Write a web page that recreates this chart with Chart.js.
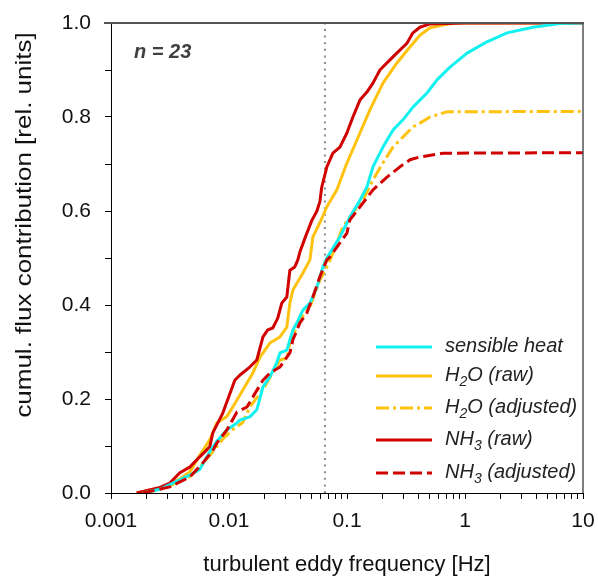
<!DOCTYPE html>
<html><head><meta charset="utf-8">
<script src="https://cdn.jsdelivr.net/npm/chart.js@4.4.1/dist/chart.umd.min.js"></script>
<style>html,body{margin:0;padding:0;background:#fff;}</style>
</head><body>
<canvas id="c" width="598" height="576"></canvas>
<script>
// ---------------- data ----------------
const sensibleFreq = [0.00186,0.0026,0.00315,0.00465,0.00565,0.00687,0.00788,0.00958,0.01165,0.01235,0.0150,0.0172,0.0194,0.0222,0.0254,0.0270,0.0309,0.0348,0.0376,0.0423,0.0485,0.0556,0.0625,0.0675,0.0871,0.1058,0.1287,0.1475,0.1659,0.2016,0.2451,0.2979,0.3622,0.4762,0.5789,0.7462,1.04,1.537,2.271,3.774,6.394,10];
const sensibleVal  = [0,0.008,0.018,0.038,0.05,0.088,0.11,0.134,0.149,0.155,0.162,0.177,0.226,0.247,0.277,0.298,0.304,0.347,0.362,0.389,0.404,0.438,0.481,0.50,0.545,0.587,0.623,0.651,0.694,0.736,0.772,0.794,0.821,0.851,0.879,0.906,0.936,0.96,0.979,0.991,0.999,1.0];

const h2oRawFreq = [0.00165,0.0026,0.00315,0.00383,0.00465,0.00565,0.00687,0.00788,0.00958,0.01077,0.0131,0.0159,0.0183,0.0222,0.0270,0.0309,0.0328,0.0348,0.0423,0.0485,0.0514,0.0589,0.0675,0.0821,0.0998,0.1287,0.1564,0.2016,0.2650,0.3416,0.4152,0.505,0.6768,0.8554,10];
const h2oRawVal  = [0,0.010,0.018,0.030,0.045,0.080,0.113,0.149,0.163,0.183,0.219,0.255,0.289,0.319,0.332,0.353,0.404,0.432,0.468,0.496,0.545,0.575,0.609,0.645,0.702,0.766,0.815,0.872,0.915,0.949,0.974,0.990,0.997,1.0,1.0];

const h2oAdjFreq = [0.00186,0.0026,0.00315,0.00465,0.00565,0.00687,0.00886,0.01077,0.0131,0.0150,0.0194,0.0222,0.0270,0.0309,0.0328,0.0399,0.0485,0.0589,0.0675,0.0759,0.0923,0.1122,0.1364,0.1659,0.2016,0.2451,0.3222,0.3622,0.4152,0.505,0.70,10];
const h2oAdjVal  = [0,0.008,0.015,0.035,0.055,0.080,0.115,0.135,0.150,0.183,0.220,0.245,0.283,0.287,0.319,0.368,0.396,0.453,0.481,0.510,0.566,0.596,0.623,0.666,0.702,0.736,0.766,0.779,0.787,0.800,0.811,0.812];

const nh3RawFreq = [0.00165,0.0026,0.00315,0.00383,0.00465,0.00565,0.00687,0.00729,0.00886,0.0112,0.0124,0.0150,0.0172,0.0194,0.0213,0.0235,0.0259,0.0280,0.0309,0.0328,0.0361,0.0383,0.0399,0.0457,0.0504,0.0556,0.0589,0.0610,0.0675,0.0759,0.0871,0.0998,0.1122,0.1287,0.1475,0.1659,0.1901,0.2451,0.3222,0.362,0.415,0.505,1.0,10];
const nh3RawVal  = [0,0.012,0.021,0.043,0.055,0.077,0.098,0.128,0.170,0.240,0.251,0.268,0.283,0.332,0.347,0.351,0.372,0.404,0.417,0.474,0.481,0.496,0.513,0.553,0.580,0.600,0.620,0.650,0.694,0.723,0.736,0.766,0.800,0.836,0.853,0.872,0.900,0.928,0.957,0.979,0.991,0.998,1.0,1.0];

const nh3AdjFreq = [0.00186,0.00315,0.00465,0.00600,0.00729,0.00788,0.00958,0.01165,0.0142,0.0159,0.0194,0.0222,0.0270,0.0328,0.0348,0.0399,0.0457,0.0514,0.0589,0.0675,0.0716,0.0998,0.1058,0.1364,0.1659,0.2181,0.2810,0.3416,0.4152,0.6509,10];
const nh3AdjVal  = [0,0.013,0.034,0.064,0.090,0.106,0.134,0.172,0.183,0.204,0.240,0.255,0.268,0.298,0.326,0.362,0.383,0.417,0.460,0.496,0.502,0.553,0.581,0.617,0.645,0.672,0.694,0.709,0.715,0.723,0.724];

const cutoffFreq = 0.065;           // dotted vertical line
const sampleSize = 'n = 23';

const seriesLabels = ['sensible heat','H₂O (raw)','H₂O (adjusted)','NH₃ (raw)','NH₃ (adjusted)'];
const seriesColors = ['#12F0F0','#FFC20E','#FFC20E','#D00000','#D00000'];
const seriesDashes = [[],[],[13,4,3,4],[],[12,5]];

const xMajorTicks = [0.001,0.01,0.1,1,10];
const xTickLabels = ['0.001','0.01','0.1','1','10'];
const xMinorMultipliers = [2,3,4,5,6,7,8,9];
const yTicks = [0,0.1,0.2,0.3,0.4,0.5,0.6,0.7,0.8,0.9,1.0];
const yTickLabels = ['0.0','','0.2','','0.4','','0.6','','0.8','','1.0'];

const xTitle = 'turbulent eddy frequency [Hz]';
const yTitle = 'cumul. flux contribution [rel. units]';

// ---------------- chart ----------------
const FONT = '"Liberation Sans", Arial, sans-serif';
const pts = (f, v) => f.map((x, i) => ({x: x, y: v[i]}));

const xTickValues = [];
xMajorTicks.forEach((d, i) => {
  xTickValues.push(d);
  if (i < xMajorTicks.length - 1) xMinorMultipliers.forEach(m => xTickValues.push(d * m));
});

const seriesData = [
  pts(sensibleFreq, sensibleVal),
  pts(h2oRawFreq, h2oRawVal),
  pts(h2oAdjFreq, h2oAdjVal),
  pts(nh3RawFreq, nh3RawVal),
  pts(nh3AdjFreq, nh3AdjVal)
];
const drawOrder = [2, 5, 3, 4, 1]; // lower = on top

const datasets = seriesData.map((d, i) => ({
  label: seriesLabels[i], data: d,
  borderColor: seriesColors[i], borderWidth: 3, borderDash: seriesDashes[i],
  pointRadius: 0, tension: 0, fill: false, order: drawOrder[i],
  borderJoinStyle: 'round', borderCapStyle: 'butt'
}));
datasets.push({
  label: 'cutoff', data: [{x: cutoffFreq, y: 0}, {x: cutoffFreq, y: 1}],
  borderColor: '#8a8a8a', borderWidth: 2, borderDash: [2, 4.6],
  pointRadius: 0, order: 10, borderCapStyle: 'butt'
});

function drawRich(ctx, text, x, y, size) {
  const subMap = {'₂': '2', '₃': '3'};
  let cx = x;
  for (const ch of text) {
    if (subMap[ch]) {
      ctx.font = 'italic ' + Math.round(size * 0.68) + 'px ' + FONT;
      ctx.fillText(subMap[ch], cx, y + 7);
      cx += ctx.measureText(subMap[ch]).width;
    } else {
      ctx.font = 'italic ' + size + 'px ' + FONT;
      ctx.fillText(ch, cx, y);
      cx += ctx.measureText(ch).width;
    }
  }
}

const decor = {
  id: 'decor',
  afterDatasetsDraw(chart) {
    const ctx = chart.ctx, a = chart.chartArea;
    ctx.save();
    // top and right frame
    ctx.strokeStyle = '#555'; ctx.lineWidth = 2;
    ctx.beginPath(); ctx.moveTo(a.left - 7, a.top); ctx.lineTo(a.right + 1, a.top); ctx.stroke();
    ctx.lineWidth = 1.5;
    ctx.beginPath(); ctx.moveTo(a.right, a.top); ctx.lineTo(a.right, a.bottom); ctx.stroke();
    // sample size
    ctx.fillStyle = '#404040'; ctx.textBaseline = 'middle'; ctx.textAlign = 'left';
    ctx.font = 'bold italic 20px ' + FONT;
    ctx.fillText(sampleSize, a.left + 23, a.top + 29);
    // legend
    const rows = [347, 376, 408, 440, 473];
    seriesLabels.forEach((lab, i) => {
      const y = rows[i];
      ctx.strokeStyle = seriesColors[i]; ctx.lineWidth = 3;
      ctx.setLineDash(seriesDashes[i]);
      ctx.beginPath(); ctx.moveTo(376, y); ctx.lineTo(432, y); ctx.stroke();
      ctx.setLineDash([]);
      ctx.fillStyle = '#222'; ctx.textBaseline = 'middle';
      drawRich(ctx, lab, 445, y - 1, 20);
    });
    // y title
    ctx.fillStyle = '#111';
    ctx.translate(25, 225); ctx.rotate(-Math.PI / 2); ctx.scale(1.18, 1);
    ctx.font = '22px ' + FONT; ctx.textAlign = 'center'; ctx.textBaseline = 'middle';
    ctx.fillText(yTitle, 0, 0);
    ctx.restore();
  }
};

new Chart(document.getElementById('c'), {
  type: 'line',
  data: {datasets: datasets},
  options: {
    responsive: false, animation: false, devicePixelRatio: 1,
    layout: {padding: {left: 0, top: 23, right: 15, bottom: 0}},
    plugins: {legend: {display: false}, tooltip: {enabled: false}},
    scales: {
      x: {
        type: 'logarithmic', min: 0.001, max: 10,
        afterBuildTicks: s => { s.ticks = xTickValues.map(v => ({value: v})); },
        afterFit: s => { s.height = 83; s.paddingLeft = 0; s.paddingRight = 0; },
        ticks: {
          autoSkip: false, maxRotation: 0, padding: 10, color: '#111',
          font: {family: FONT, size: 21},
          callback: v => { const i = xMajorTicks.findIndex(m => Math.abs(m - v) < m * 1e-6); return i >= 0 ? xTickLabels[i] : ''; }
        },
        grid: {drawOnChartArea: false, drawTicks: true, tickLength: 6, color: '#000', lineWidth: 1},
        border: {display: true, color: '#000', width: 1},
        title: {display: true, text: xTitle, color: '#111', font: {family: FONT, size: 22, lineHeight: 1}, padding: {top: 0, bottom: 0}}
      },
      y: {
        min: 0, max: 1,
        afterBuildTicks: s => { s.ticks = yTicks.map(v => ({value: v})); },
        afterFit: s => { s.width = 111; s.paddingTop = 0; s.paddingBottom = 0; },
        ticks: {
          autoSkip: false, padding: 14, color: '#111',
          font: {family: FONT, size: 21},
          callback: (v, i) => yTickLabels[i]
        },
        grid: {drawOnChartArea: false, drawTicks: true, tickLength: 6, color: '#000', lineWidth: 1},
        border: {display: true, color: '#000', width: 1}
      }
    }
  },
  plugins: [decor]
});
</script>
</body></html>
